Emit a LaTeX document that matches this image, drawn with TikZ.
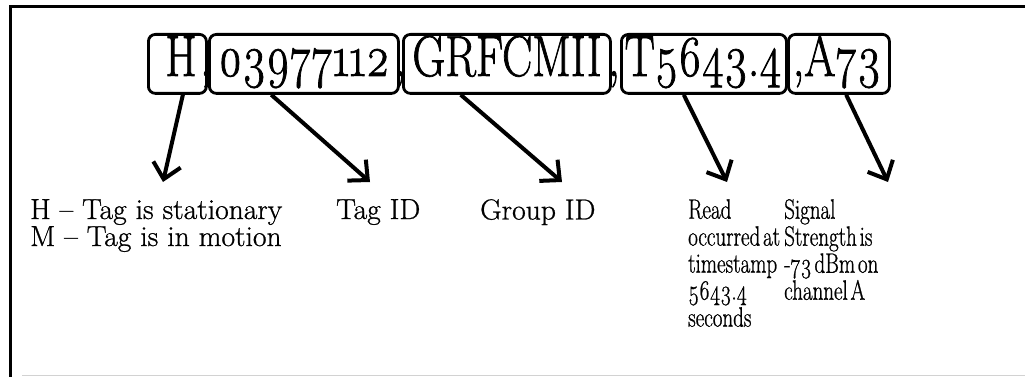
\documentclass[tikz,border=0pt]{standalone}
\usepackage{fontspec}
\setmainfont{Latin Modern Roman}[Numbers=OldStyle]
% faces for the record line and the two kinds of description columns
\newfontfamily\recfont{Latin Modern Roman}[Ligatures=TeX, Numbers=OldStyle, FakeStretch=0.78, FakeBold=1.2]
\newfontfamily\lblwide{Latin Modern Roman}[Ligatures=TeX, Numbers=OldStyle, FakeStretch=1.02, FakeBold=0.8]
\newfontfamily\lblnarrow{Latin Modern Roman}[Ligatures=TeX, Numbers=OldStyle, FakeStretch=0.75, FakeBold=0.8]
\newcommand\tightwords{\spaceskip=0.1em plus 0.05em\relax}
\usetikzlibrary{arrows.meta,calc}
\begin{document}
\begin{tikzpicture}[x=1pt,y=-1pt,
  field/.style={draw, line width=2.8pt, rounded corners=7pt, inner sep=0pt,
                minimum height=59pt, anchor=north west},
  rec/.style={inner sep=0pt, anchor=base, font=\recfont\fontsize{58}{58}\selectfont},
  pointer/.style={line width=4pt,
                  -{Straight Barb[length=15pt,width=28pt,line width=4pt]}},
  lbl/.style={inner sep=0pt, anchor=north west, align=left},
  lblw/.style={lbl, font=\lblwide\fontsize{29}{27}\selectfont},
  lbln/.style={lbl, font=\lblnarrow\fontsize{28}{27}\selectfont\tightwords},
  frame/.style={line width=3pt}
]
\useasboundingbox (0,0) rectangle (1025,377);

% page frame
\draw[frame] (10,377) -- (10,7) -- (1025,7);
\draw[gray!35, line width=1.2pt] (22,375.5) -- (1025,375.5);

% field boxes
\node[field, minimum width=58pt]  (b1) at (147,33) {};
\node[field, minimum width=189pt] (b2) at (208,33) {};
\node[field, minimum width=207pt] (b3) at (402,33) {};
\node[field, minimum width=165pt] (b4) at (620,33) {};
\node[field, minimum width=101pt] (b5) at (787,33) {};

% record text
\node[rec] (t1) at (181,76) {H};
\node[rec] (c1) at (206,76) {,};
\node[rec] (t2) at (304,76) {03977112};
\node[rec] (c2) at (400,76) {,};
\node[rec] (t3) at (507,76) {GRFCMII};
\node[rec] (c3) at (614,76) {,};
\node[rec] (t4) at (703,76) {T5643.4};
\node[rec] (t5) at (837,76) {,A73};

% arrow ends
\coordinate (e1) at (163,182);
\coordinate (e2) at (370,182);
\coordinate (e3) at (562,182);
\coordinate (e4) at (727,182);
\coordinate (e5) at (888,182);

\draw[pointer] ($(b1.south west)!0.59!(b1.south east)$) -- (e1);
\draw[pointer] ($(b2.south west)!0.33!(b2.south east)$) -- (e2);
\draw[pointer] ($(b3.south west)!0.28!(b3.south east)$) -- (e3);
\draw[pointer] ($(b4.south west)!0.38!(b4.south east)$) -- (e4);
\draw[pointer] ($(b5.south west)!0.57!(b5.south east)$) -- (e5);

% descriptions
\node[lblw] (l1) at (30,199) {H -- Tag is stationary\\M -- Tag is in motion};
\node[lblw] (l2) at (336,199) {Tag ID};
\node[lblw] (l3) at (480,199) {Group ID};
\node[lbln] (l4) at (688,199) {Read\\occurred at\\timestamp\\5643.4\\seconds};
\node[lbln] (l5) at (784,199) {Signal\\Strength is\\-73 dBm on\\channel A};
\end{tikzpicture}
\end{document}
